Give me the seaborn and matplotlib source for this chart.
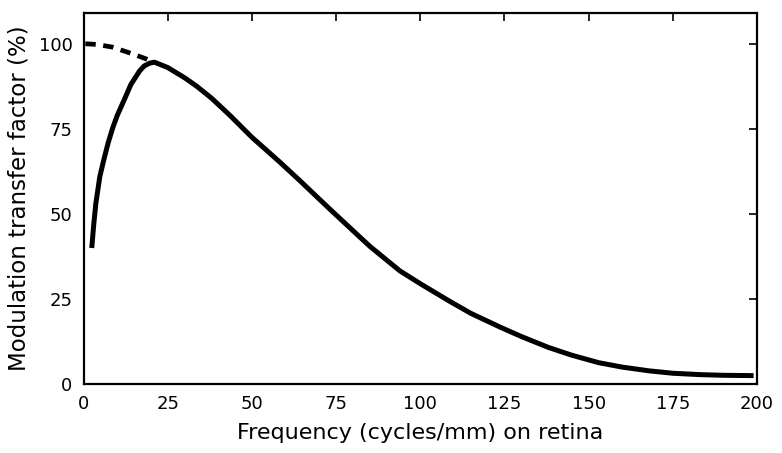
import matplotlib
matplotlib.use("Agg")
import matplotlib.pyplot as plt
import seaborn as sns
import pandas as pd

# Measured MTF (solid curve)
freq_measured = [2.4, 3.0, 3.6, 4.8, 6.0, 7.3, 8.7, 10.0, 12.7, 14.0, 16.6, 18.0, 19.6, 21.0,
                 25.0, 30.0, 33.6, 38.0, 43.4, 50.0, 58.2, 64.2, 72.5, 79.0, 85.0,
                 93.9, 100.0, 108.8, 115.0, 123.6, 130.0, 138.0, 145.0, 153.0, 160.0,
                 168.0, 175.0, 183.0, 190.0, 199.0]
mtf_measured = [40.0, 47.0, 53.0, 61.0, 66.0, 71.0, 75.5, 79.0, 85.0, 88.0, 92.0, 93.5, 94.3, 94.6,
                93.0, 90.0, 87.5, 84.0, 79.0, 72.5, 65.3, 59.8, 52.0, 46.0, 40.5,
                33.3, 29.5, 24.3, 20.8, 16.8, 14.0, 10.8, 8.5, 6.3, 5.0,
                3.9, 3.2, 2.8, 2.6, 2.5]

# Extrapolated portion (dashed curve)
freq_extrap = [0.5, 4.0, 8.6, 14.6, 18.7, 21.0]
mtf_extrap = [100.0, 99.8, 99.0, 97.0, 95.5, 94.5]

x_ticks = [0, 25, 50, 75, 100, 125, 150, 175, 200]
y_ticks = [0, 25, 50, 75, 100]
x_label = "Frequency (cycles/mm) on retina"
y_label = "Modulation transfer factor (%)"

sns.set_style("white")
plt.rcParams["font.family"] = ["DejaVu Sans"]

df_m = pd.DataFrame({"f": freq_measured, "m": mtf_measured})
df_e = pd.DataFrame({"f": freq_extrap, "m": mtf_extrap})

fig = plt.figure(figsize=(7.82, 4.53), dpi=100)
ax = fig.add_axes([0.107, 0.152, 0.861, 0.819])

sns.lineplot(data=df_m, x="f", y="m", ax=ax, color="black", linewidth=3.6,
             sort=False, solid_capstyle="butt", solid_joinstyle="round")
sns.lineplot(data=df_e, x="f", y="m", ax=ax, color="black", linewidth=3.4,
             sort=False, linestyle=(0, (2.2, 1.6)))

ax.set_xlim(0, 200)
ax.set_ylim(0, 109)
ax.set_xticks(x_ticks)
ax.set_yticks(y_ticks)
ax.set_xticklabels([str(t) for t in x_ticks])
ax.set_yticklabels([str(t) for t in y_ticks])
ax.tick_params(direction="in", length=6, width=1.2, top=True, right=True,
               labelsize=13, pad=8, colors="black")
for s in ax.spines.values():
    s.set_visible(True)
    s.set_color("black")
    s.set_linewidth(1.6)

ax.set_xlabel(x_label, fontsize=16, labelpad=7, color="black")
ax.set_ylabel(y_label, fontsize=16.5, labelpad=6, color="black")

fig.savefig("out.png", dpi=100, facecolor="white")
